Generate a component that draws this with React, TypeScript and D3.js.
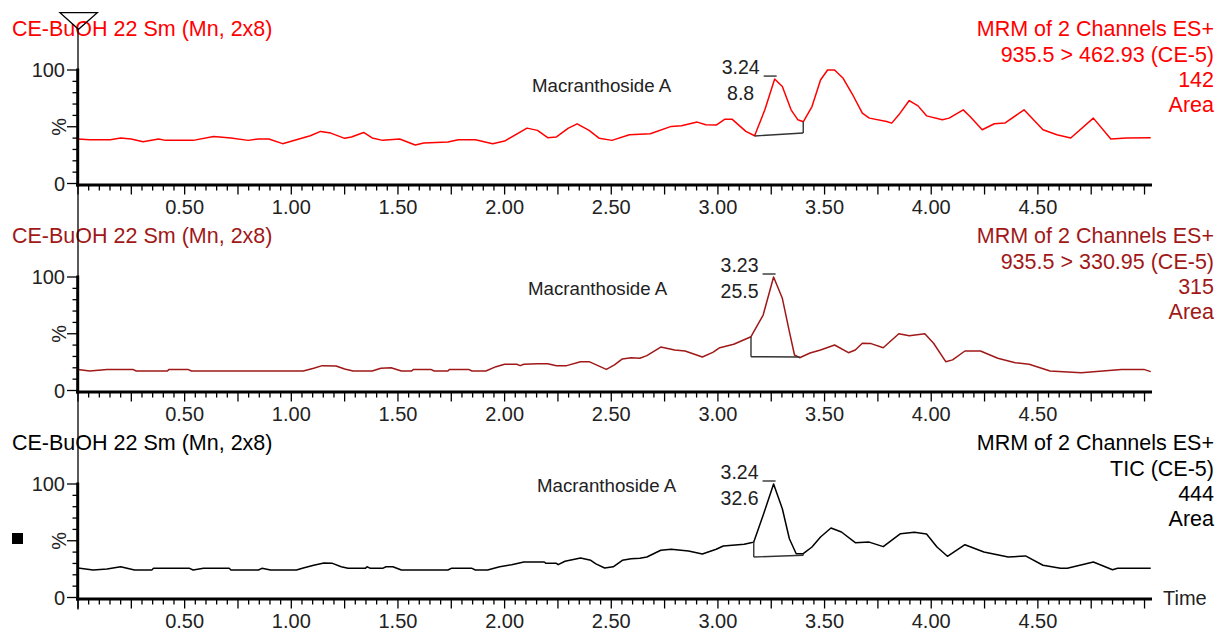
import React from "react";
import * as d3 from "d3";

// ---------- data ----------
const xTickValues = [0.5, 1.0, 1.5, 2.0, 2.5, 3.0, 3.5, 4.0, 4.5];
const xTickLabels = ["0.50", "1.00", "1.50", "2.00", "2.50", "3.00", "3.50", "4.00", "4.50"];
const yTickValues = [0, 100];
const yTickLabels = ["0", "100"];

const ch1Times = [0, 0.055, 0.152, 0.2, 0.249, 0.305, 0.378, 0.41, 0.54, 0.636, 0.717, 0.798, 0.846, 0.895, 0.959, 1.024, 1.089, 1.137, 1.185, 1.25, 1.282, 1.339, 1.379, 1.428, 1.508, 1.581, 1.621, 1.734, 1.783, 1.863, 1.944, 2.0, 2.105, 2.154, 2.202, 2.243, 2.299, 2.34, 2.396, 2.444, 2.503, 2.585, 2.683, 2.781, 2.829, 2.903, 2.943, 2.992, 3.033, 3.066, 3.131, 3.172, 3.22, 3.266, 3.302, 3.343, 3.375, 3.4, 3.441, 3.481, 3.514, 3.547, 3.587, 3.628, 3.677, 3.71, 3.791, 3.815, 3.848, 3.897, 3.938, 3.978, 4.052, 4.084, 4.15, 4.182, 4.239, 4.296, 4.345, 4.435, 4.524, 4.589, 4.654, 4.76, 4.842, 4.915, 5.029];
const ch1Values = [39.2, 38.6, 38.6, 40.1, 39.2, 36.8, 39.2, 38.0, 38.0, 41.5, 40.1, 38.0, 39.2, 39.2, 35.1, 38.6, 42.1, 45.9, 44.4, 39.8, 41.0, 45.0, 40.1, 38.0, 39.2, 33.9, 35.7, 36.5, 38.6, 38.6, 35.1, 37.4, 48.8, 46.8, 40.4, 41.0, 48.8, 52.6, 46.8, 39.8, 38.0, 43.0, 43.9, 50.3, 50.9, 54.1, 51.8, 51.5, 56.7, 56.7, 45.9, 42.1, 64.9, 92.0, 85.4, 64.9, 56.1, 54.4, 67.8, 91.2, 100, 100, 92.7, 79.5, 62.0, 57.6, 54.7, 53.2, 60.5, 73.1, 68.4, 59.6, 56.1, 57.6, 64.9, 59.1, 47.4, 52.6, 53.2, 64.9, 47.4, 43.0, 40.1, 57.6, 39.2, 40.1, 40.4];

const ch2Times = [0, 0.055, 0.136, 0.257, 0.273, 0.419, 0.427, 0.515, 0.532, 1.056, 1.105, 1.145, 1.21, 1.25, 1.29, 1.379, 1.42, 1.468, 1.516, 1.564, 1.573, 1.654, 1.67, 1.734, 1.742, 1.831, 1.847, 1.912, 1.96, 2.0, 2.057, 2.073, 2.09, 2.154, 2.202, 2.243, 2.291, 2.356, 2.396, 2.477, 2.515, 2.552, 2.593, 2.634, 2.667, 2.732, 2.797, 2.846, 2.927, 2.976, 3.009, 3.074, 3.155, 3.212, 3.261, 3.302, 3.335, 3.359, 3.383, 3.432, 3.481, 3.547, 3.612, 3.644, 3.677, 3.718, 3.775, 3.848, 3.897, 3.97, 4.011, 4.068, 4.1, 4.158, 4.231, 4.312, 4.394, 4.459, 4.557, 4.703, 4.891, 4.997, 5.029];
const ch2Values = [18.6, 17.2, 18.6, 18.6, 17.2, 17.2, 18.6, 18.6, 17.2, 17.2, 19.6, 21.9, 21.6, 18.9, 17.2, 17.2, 19.6, 20.1, 17.2, 17.2, 18.6, 18.6, 17.2, 17.2, 18.6, 18.6, 17.2, 17.2, 21.0, 23.1, 23.1, 21.9, 23.1, 23.6, 23.6, 21.9, 21.9, 25.4, 25.4, 18.6, 22.5, 27.8, 28.9, 28.4, 30.7, 38.3, 35.7, 34.8, 29.5, 33.6, 37.7, 40.7, 47.4, 66.5, 100, 81.2, 51.8, 31.3, 28.9, 33.0, 35.7, 40.1, 33.3, 35.7, 41.6, 41.3, 37.7, 50.0, 48.3, 50.0, 41.6, 25.4, 27.0, 34.8, 34.8, 28.4, 24.5, 23.1, 17.2, 15.7, 18.6, 18.6, 16.6];

const ch3Times = [0, 0.071, 0.136, 0.2, 0.265, 0.346, 0.354, 0.523, 0.54, 0.588, 0.709, 0.717, 0.846, 0.862, 0.903, 1.024, 1.056, 1.105, 1.153, 1.193, 1.234, 1.266, 1.347, 1.355, 1.371, 1.428, 1.444, 1.476, 1.516, 1.734, 1.75, 1.847, 1.863, 1.92, 1.977, 2.033, 2.09, 2.186, 2.194, 2.243, 2.251, 2.283, 2.356, 2.404, 2.428, 2.469, 2.509, 2.552, 2.593, 2.634, 2.667, 2.732, 2.781, 2.862, 2.927, 2.992, 3.025, 3.123, 3.155, 3.168, 3.212, 3.261, 3.302, 3.335, 3.367, 3.4, 3.441, 3.481, 3.53, 3.579, 3.644, 3.709, 3.775, 3.856, 3.921, 3.978, 4.027, 4.076, 4.158, 4.247, 4.361, 4.442, 4.524, 4.606, 4.638, 4.76, 4.85, 4.874, 5.029];
const ch3Values = [26.0, 24.2, 25.1, 27.1, 24.2, 24.2, 25.7, 25.7, 24.2, 25.7, 25.7, 24.2, 24.2, 25.7, 24.2, 24.2, 26.0, 28.4, 30.4, 30.1, 27.1, 25.7, 25.7, 27.1, 25.7, 25.7, 27.1, 27.1, 24.2, 24.2, 25.7, 25.7, 24.2, 24.2, 27.1, 28.9, 31.3, 31.3, 30.1, 30.1, 28.9, 31.9, 34.8, 32.8, 29.6, 26.0, 27.0, 32.8, 34.2, 34.5, 35.7, 41.6, 42.5, 41.0, 38.3, 42.5, 45.4, 46.9, 48.3, 48.8, 72.4, 100, 78.2, 51.8, 38.6, 38.6, 44.5, 53.3, 61.2, 57.7, 48.3, 48.8, 44.8, 56.2, 57.4, 56.0, 44.5, 36.3, 46.5, 40.1, 35.7, 36.6, 28.4, 25.7, 25.7, 31.3, 24.5, 25.7, 25.7];

const sampleLabel = "CE-BuOH 22 Sm (Mn, 2x8)";
const functionTitle = "MRM of 2 Channels ES+";
const channelNames = ["935.5 > 462.93 (CE-5)", "935.5 > 330.95 (CE-5)", "TIC (CE-5)"];
const channelIntensities = ["142", "315", "444"];
const channelUnits = ["Area", "Area", "Area"];
const peakName = "Macranthoside A";
const peakRT = ["3.24", "3.23", "3.24"];
const peakArea = ["8.8", "25.5", "32.6"];
const peakApexT = [3.266, 3.261, 3.261];
const peakApexV = [92.0, 100, 100];
const peakStartT = [3.172, 3.155, 3.168];
const peakEndT = [3.4, 3.383, 3.4];
const peakBaseStartV = [41.9, 29.8, 35.7];
const peakBaseEndV = [44.5, 29.5, 37.2];

// ---------- layout ----------
const PANEL_STEP = 207;
const X0 = 78;
const X1 = 1152;
const Y_ZERO = 183.5;
const Y_FULL = 70;
const nameLabelPos = [
  [532, 92],
  [528, 88],
  [537, 78],
];
const colors = ["#FF0000", "#A01818", "#000000"];
const FONT = "'Liberation Sans', Arial, Helvetica, sans-serif";

const panels = [
  { t: ch1Times, v: ch1Values },
  { t: ch2Times, v: ch2Values },
  { t: ch3Times, v: ch3Values },
];

function interp(ts: number[], vs: number[], t: number) {
  const i = d3.bisectLeft(ts, t);
  if (i <= 0) return vs[0];
  if (i >= ts.length) return vs[vs.length - 1];
  const a = ts[i - 1], b = ts[i];
  const f = (t - a) / (b - a);
  return vs[i - 1] + f * (vs[i] - vs[i - 1]);
}

export default function App() {
  const x = d3.scaleLinear().domain([0, 5.035]).range([X0, X1]);
  const minorTicks = d3.range(0, 101).map((i) => i * 0.05);
  const yMinor = d3.range(0, 11).map((i) => i * 10);

  return (
    <svg
      width={1219}
      height={630}
      style={{ position: "absolute", left: 0, top: 0, background: "#fff" }}
      fontFamily={FONT}
    >
      <rect x={0} y={0} width={1219} height={630} fill="#fff" />
      {panels.map((pd, p) => {
        const off = PANEL_STEP * p;
        const y = d3.scaleLinear().domain([0, 100]).range([Y_ZERO + off, Y_FULL + off]);
        const col = colors[p];
        const line = d3
          .line<number>()
          .x((_, i) => x(pd.t[i]))
          .y((d) => y(d))
          .curve(d3.curveLinear);
        const apexX = x(peakApexT[p]);
        const apexY = y(peakApexV[p]);
        const sx = x(peakStartT[p]);
        const ex = x(peakEndT[p]);
        const sv = interp(pd.t, pd.v, peakStartT[p]);
        const ev = interp(pd.t, pd.v, peakEndT[p]);
        const axisY = Y_ZERO + off + 1.5;
        return (
          <g key={p}>
            {/* header texts */}
            <text x={12} y={36 + off} fontSize={21.5} fill={col}>
              {sampleLabel}
            </text>
            <g fontSize={21.5} fill={col} textAnchor="end">
              <text x={1214} y={36 + off}>{functionTitle}</text>
              <text x={1214} y={61.5 + off}>{channelNames[p]}</text>
              <text x={1214} y={86.5 + off}>{channelIntensities[p]}</text>
              <text x={1214} y={111.5 + off}>{channelUnits[p]}</text>
            </g>

            {/* trace */}
            <path d={line(pd.v) || ""} fill="none" stroke={col} strokeWidth={1.5} strokeLinejoin="round" />

            {/* peak integration */}
            <g stroke="#333" strokeWidth={1.4} fill="none">
              <line x1={sx} y1={y(peakBaseStartV[p])} x2={ex} y2={y(peakBaseEndV[p])} />
              <line x1={sx} y1={y(peakBaseStartV[p])} x2={sx} y2={y(sv)} />
              <line x1={ex} y1={y(peakBaseEndV[p])} x2={ex} y2={y(ev)} />
              <line x1={apexX - 11} y1={apexY - 3} x2={apexX + 2} y2={apexY - 3} />
            </g>
            <g fontSize={19.5} fill="#222" textAnchor="middle">
              <text x={apexX - 34} y={apexY - 5}>{peakRT[p]}</text>
              <text x={apexX - 34} y={apexY + 21}>{peakArea[p]}</text>
            </g>
            <text x={nameLabelPos[p][0]} y={nameLabelPos[p][1] + off} fontSize={18.7} fill="#222">
              {peakName}
            </text>

            {/* y axis */}
            <line x1={77.7} y1={y(100) - 1.5} x2={77.7} y2={axisY + 1.5} stroke="#000" strokeWidth={3} />
            {yMinor.map((v) => {
              const major = v === 0 || v === 50 || v === 100;
              return (
                <line
                  key={v}
                  x1={major ? 67 : 72.5}
                  x2={77}
                  y1={y(v)}
                  y2={y(v)}
                  stroke="#000"
                  strokeWidth={1.3}
                />
              );
            })}
            {yTickValues.map((v, i) => (
              <text key={v} x={65} y={y(v) + 7} fontSize={20} fill="#222" textAnchor="end">
                {yTickLabels[i]}
              </text>
            ))}
            <text
              transform={`translate(66, ${y(50)}) rotate(-90)`}
              fontSize={20}
              fill="#222"
              textAnchor="middle"
            >
              %
            </text>

            {/* x axis */}
            <line x1={76} x2={X1} y1={axisY} y2={axisY} stroke="#000" strokeWidth={3} />
            {minorTicks.map((t, i) => {
              const major = i % 5 === 0;
              return (
                <line
                  key={i}
                  x1={x(t)}
                  x2={x(t)}
                  y1={axisY + 1}
                  y2={axisY + (major ? 9.5 : 5.5)}
                  stroke="#000"
                  strokeWidth={1.3}
                />
              );
            })}
            {xTickValues.map((t, i) => (
              <text key={t} x={x(t)} y={Y_ZERO + off + 30} fontSize={20} fill="#222" textAnchor="middle">
                {xTickLabels[i]}
              </text>
            ))}
          </g>
        );
      })}

      {/* continuous vertical line through all panels */}
      <line x1={78} x2={78} y1={29} y2={Y_ZERO + 2 * PANEL_STEP + 12} stroke="#000" strokeWidth={1.3} />
      {/* top marker triangle */}
      <path d="M60,12.7 L97.3,12.7 L78.5,29.3 Z" fill="none" stroke="#000" strokeWidth={1.3} />
      {/* selection square */}
      <rect x={12} y={533} width={11} height={11} fill="#000" />
      <text x={1163} y={605} fontSize={20} fill="#222">
        Time
      </text>
    </svg>
  );
}
